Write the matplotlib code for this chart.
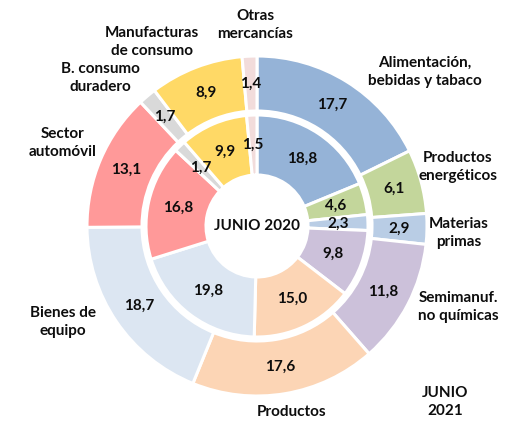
import matplotlib
matplotlib.use("Agg")
import matplotlib.pyplot as plt
import numpy as np

plt.rcParams['font.family'] = ['Lato', 'DejaVu Sans']

categories = ["Alimentación,\nbebidas y tabaco", "Productos\nenergéticos", "Materias\nprimas",
              "Semimanuf.\nno químicas", "Productos", "Bienes de\nequipo", "Sector\nautomóvil",
              "B. consumo\nduradero", "Manufacturas\nde consumo", "Otras\nmercancías"]
outer_2021 = [17.7, 6.1, 2.9, 11.8, 17.6, 18.7, 13.1, 1.7, 8.9, 1.4]
inner_2020 = [18.8, 4.6, 2.3, 9.8, 15.0, 19.8, 16.8, 1.7, 9.9, 1.5]
colors = ["#95B3D7", "#C3D69B", "#B9CDE5", "#CCC1DA", "#FCD5B5", "#DCE6F2",
          "#FF9999", "#D9D9D9", "#FFD966", "#F2DCDB"]

W, H = 508, 423
fig = plt.figure(figsize=(W / 100, H / 100), dpi=100)
ax = fig.add_axes([0, 0, 1, 1])
ax.set_xlim(0, W)
ax.set_ylim(0, H)
ax.set_aspect('equal')
ax.axis('off')

cx, cy = 257, H - 226
R_out, w_out = 170, 55
R_in, w_in = 111, 60
FS = 11
TC = '#0d0d0d'

def fmt(v):
    return f"{v:.1f}".replace('.', ',')

ax.pie(outer_2021, radius=R_out, center=(cx, cy), colors=colors, startangle=90,
       counterclock=False, wedgeprops=dict(width=w_out, edgecolor='white', linewidth=2.2),
       labels=[fmt(v) for v in outer_2021], labeldistance=(R_out - w_out / 2) / R_out,
       textprops=dict(fontsize=FS, fontweight='bold', color=TC, ha='center', va='center'))
ax.pie(inner_2020, radius=R_in, center=(cx, cy), colors=colors, startangle=90,
       counterclock=False, wedgeprops=dict(width=w_in, edgecolor='white', linewidth=2.2),
       labels=[fmt(v) for v in inner_2020], labeldistance=(R_in - w_in / 2) / R_in,
       textprops=dict(fontsize=FS, fontweight='bold', color=TC, ha='center', va='center'))
ax.set_xlim(0, W)
ax.set_ylim(0, H)

label_pos = [(425, 72), (458, 167), (459, 233), (458, 307), (292, 412), (63, 322),
             (63, 143), (100, 78), (152, 42), (255, 25)]
for name, (x, y) in zip(categories, label_pos):
    ax.text(x, H - y, name, ha='center', va='center', fontsize=FS, fontweight='bold',
            color=TC, linespacing=1.4)

ax.text(cx, cy, "JUNIO 2020", ha='center', va='center', fontsize=FS, fontweight='bold', color=TC)
ax.text(445, H - 402, "JUNIO\n2021", ha='center', va='center', fontsize=FS, fontweight='bold',
        color=TC, linespacing=1.4)

fig.savefig("out.png", dpi=100, facecolor='white')
